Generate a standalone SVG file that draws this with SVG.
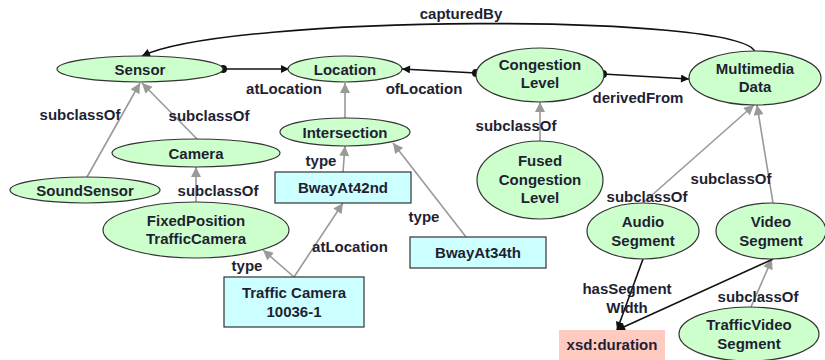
<svg xmlns="http://www.w3.org/2000/svg" width="825" height="360" viewBox="0 0 825 360">
<defs>
<style>
.cls ellipse{fill:#ccffcc;stroke:#333;stroke-width:1.2}
.inst rect{fill:#ccffff;stroke:#333;stroke-width:1.2}
.lit rect{fill:#ffcbc0;stroke:none}
text{font-family:"Liberation Sans",Arial,sans-serif;font-size:15px;font-weight:bold;fill:#1f1f33;text-anchor:middle}
.blk{stroke:#111;stroke-width:1.6;fill:none}
.gry{stroke:#999;stroke-width:1.6;fill:none}
</style>
<marker id="ab" viewBox="0 0 10 10" refX="10" refY="5" markerWidth="10" markerHeight="8" markerUnits="userSpaceOnUse" orient="auto"><path d="M0,0 L10,5 L0,10 z" fill="#111"/></marker>
<marker id="ag" viewBox="0 0 10 10" refX="10" refY="5" markerWidth="11" markerHeight="10" markerUnits="userSpaceOnUse" orient="auto"><path d="M0,0 L10,5 L0,10 z" fill="#999"/></marker>
<marker id="dot" viewBox="0 0 10 10" refX="5" refY="5" markerWidth="8" markerHeight="8" markerUnits="userSpaceOnUse"><circle cx="5" cy="5" r="5" fill="#111"/></marker>
</defs>
<rect width="825" height="360" fill="#fff"/>
<g id="connectors">
<path class="blk" d="M755,52 C742,13 230,14 142,56" marker-end="url(#ab)"/>
<text x="461" y="19">capturedBy</text>
<path class="blk" d="M223,69 L289,69" marker-start="url(#dot)" marker-end="url(#ab)"/>
<text x="284" y="94">atLocation</text>
<path class="blk" d="M476,73 L402,69" marker-start="url(#dot)" marker-end="url(#ab)"/>
<text x="424" y="94">ofLocation</text>
<path class="blk" d="M603,74 L689,79" marker-start="url(#dot)" marker-end="url(#ab)"/>
<text x="638" y="103">derivedFrom</text>
<path class="gry" d="M87,177 L140,83" marker-end="url(#ag)"/>
<text x="80" y="120">subclassOf</text>
<path class="gry" d="M197,139 L142,83" marker-end="url(#ag)"/>
<text x="209" y="121">subclassOf</text>
<path class="gry" d="M196,202 L196,167" marker-end="url(#ag)"/>
<text x="218" y="196">subclassOf</text>
<path class="gry" d="M345,118 L345,83" marker-end="url(#ag)"/>
<path class="gry" d="M343,172 L345,146" marker-end="url(#ag)"/>
<text x="321" y="166">type</text>
<path class="gry" d="M466,237 L393,143" marker-end="url(#ag)"/>
<text x="424" y="222">type</text>
<path class="gry" d="M294,277 L263,250" marker-end="url(#ag)"/>
<text x="247" y="271">type</text>
<path class="gry" d="M294,277 L343,203" marker-end="url(#ag)"/>
<text x="350" y="252">atLocation</text>
<path class="gry" d="M540,141 L540,102" marker-end="url(#ag)"/>
<text x="516" y="131">subclassOf</text>
<path class="gry" d="M643,203 L754,105" marker-end="url(#ag)"/>
<text x="647" y="202">subclassOf</text>
<path class="gry" d="M773,203 L757,105" marker-end="url(#ag)"/>
<text x="731" y="184">subclassOf</text>
<path class="gry" d="M751,307 L772,259" marker-end="url(#ag)"/>
<text x="758" y="302">subclassOf</text>
<path class="blk" d="M643,259 L617,330" marker-end="url(#ab)"/>
<path class="blk" d="M773,259 L617,330" marker-end="url(#ab)"/>
<text x="627" y="294">hasSegment</text>
<text x="627" y="313">Width</text>
</g>
<g id="sensor" class="cls"><ellipse cx="140" cy="69" rx="83" ry="13"/><text x="140" y="75">Sensor</text></g>
<g id="location" class="cls"><ellipse cx="345" cy="69" rx="57" ry="13"/><text x="345" y="75">Location</text></g>
<g id="intersection" class="cls"><ellipse cx="345" cy="132" rx="65" ry="14"/><text x="345" y="138">Intersection</text></g>
<g id="camera" class="cls"><ellipse cx="196" cy="153" rx="84" ry="14"/><text x="196" y="159">Camera</text></g>
<g id="soundsensor" class="cls"><ellipse cx="85" cy="190" rx="75" ry="13"/><text x="85" y="196">SoundSensor</text></g>
<g id="fixedposition" class="cls"><ellipse cx="196" cy="230" rx="93" ry="28"/><text x="196" y="226">FixedPosition</text><text x="196" y="244">TrafficCamera</text></g>
<g id="congestion" class="cls"><ellipse cx="540" cy="75" rx="64" ry="27"/><text x="540" y="70">Congestion</text><text x="540" y="88">Level</text></g>
<g id="multimedia" class="cls"><ellipse cx="755" cy="78" rx="66" ry="27"/><text x="755" y="74">Multimedia</text><text x="755" y="92">Data</text></g>
<g id="fused" class="cls"><ellipse cx="540" cy="180" rx="63" ry="39"/><text x="540" y="166">Fused</text><text x="540" y="185">Congestion</text><text x="540" y="203">Level</text></g>
<g id="audio" class="cls"><ellipse cx="643" cy="231" rx="56" ry="28"/><text x="643" y="227">Audio</text><text x="643" y="246">Segment</text></g>
<g id="video" class="cls"><ellipse cx="771" cy="231" rx="55" ry="28"/><text x="771" y="227">Video</text><text x="771" y="246">Segment</text></g>
<g id="trafficvideo" class="cls"><ellipse cx="749" cy="334" rx="70" ry="27"/><text x="749" y="330">TrafficVideo</text><text x="749" y="349">Segment</text></g>
<g id="bway42" class="inst"><rect x="275" y="172" width="136" height="31"/><text x="343" y="193">BwayAt42nd</text></g>
<g id="bway34" class="inst"><rect x="410" y="237" width="136" height="31"/><text x="478" y="258">BwayAt34th</text></g>
<g id="trafficcamera" class="inst"><rect x="224" y="277" width="140" height="50"/><text x="294" y="298">Traffic Camera</text><text x="294" y="317">10036-1</text></g>
<g id="duration" class="lit"><rect x="559" y="330" width="106" height="32"/><text x="612" y="350">xsd:duration</text></g>
</svg>
